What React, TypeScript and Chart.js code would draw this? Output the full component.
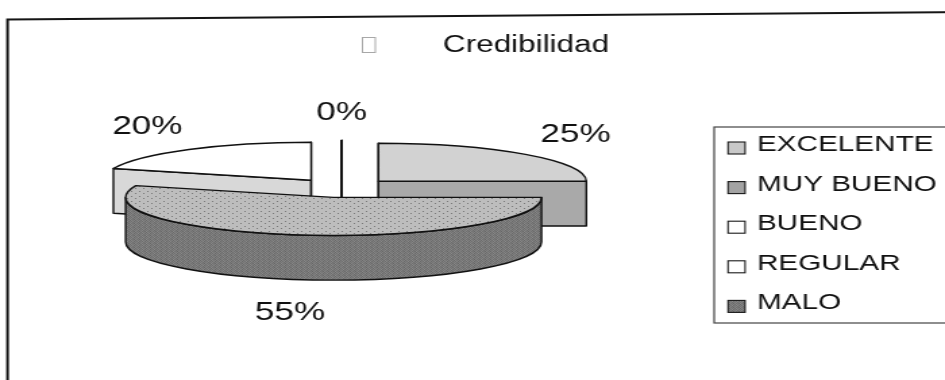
import React, { useEffect, useRef } from "react";
import { Chart, registerables } from "chart.js";

Chart.register(...registerables);

// ---------- data ----------
const TITLE = "Credibilidad";
const CATEGORIES = ["EXCELENTE", "MUY BUENO", "BUENO", "REGULAR", "MALO"];
const VALUES = [25, 55, 20, 0, 0];

// ---------- styles ----------
const LEGEND_FILL = ["#c8c8c8", "#a3a3a3", "#ffffff", "#ffffff", "#7d7d7d"];
const TOP_FILL = ["#d2d2d2", "dots", "#ffffff", "#ffffff", "#7d7d7d"];
const SIDE_FILL = ["#a9a9a9", "grain", "#d8d8d8", "#f4f4f4", "#5f5f5f"];

const FONT = 'Arial, "Liberation Sans", Helvetica, sans-serif';
const STRETCH_X = 1.35; // the scanned original is widened horizontally
const W = 720;
const H = 380;

const patternCache: any = {};
function getFill(ctx: any, key: string) {
  if (key !== "dots" && key !== "grain") return key;
  if (patternCache[key]) return patternCache[key];
  const c = document.createElement("canvas");
  const g = c.getContext("2d") as CanvasRenderingContext2D;
  if (key === "dots") {
    c.width = 6;
    c.height = 5;
    g.fillStyle = "#bdbdbd";
    g.fillRect(0, 0, 6, 5);
    g.fillStyle = "#787878";
    g.fillRect(1, 1, 1, 1);
    g.fillRect(4, 3, 1, 1);
  } else {
    const shades = [
      [0x6a, 0x86, 0x72, 0x82],
      [0x80, 0x6e, 0x8a, 0x68],
      [0x74, 0x84, 0x6c, 0x7e],
      [0x88, 0x70, 0x7c, 0x66],
    ];
    c.width = 4;
    c.height = 4;
    for (let y = 0; y < 4; y++) {
      for (let x = 0; x < 4; x++) {
        const v = shades[y][x];
        g.fillStyle = `rgb(${v},${v},${v})`;
        g.fillRect(x, y, 1, 1);
      }
    }
  }
  const p = ctx.createPattern(c, "repeat");
  patternCache[key] = p;
  return p;
}

// Draws the pie as a tilted, exploded 3D pie using the angles, centre and
// radius that Chart.js computed for each arc element.
const pie3d = {
  id: "pie3d",
  beforeDatasetsDraw(chart: any) {
    const meta = chart.getDatasetMeta(0);
    const arcs = meta.data;
    if (!arcs || !arcs.length) return false;
    const ctx = chart.ctx;
    const R = arcs[0].outerRadius;
    const cx = arcs[0].x;
    const cy = arcs[0].y;
    const rx = R;
    const ry = R * 0.247;
    const depth = R * 0.29;
    const ex = 0.25;

    const slices = arcs.map((a: any, i: number) => {
      const mid = (a.startAngle + a.endAngle) / 2;
      return {
        i,
        a0: a.startAngle,
        a1: a.endAngle,
        mid,
        ox: cx + ex * rx * Math.cos(mid),
        oy: cy + ex * ry * Math.sin(mid),
      };
    });
    const order = [...slices].sort((p: any, q: any) => p.oy - q.oy);

    ctx.save();
    ctx.lineWidth = 1.4;
    ctx.strokeStyle = "#111";
    ctx.lineJoin = "round";

    const wall = (s: any, ang: number) => {
      const px = s.ox + rx * Math.cos(ang);
      const py = s.oy + ry * Math.sin(ang);
      ctx.beginPath();
      ctx.moveTo(s.ox, s.oy);
      ctx.lineTo(px, py);
      ctx.lineTo(px, py + depth);
      ctx.lineTo(s.ox, s.oy + depth);
      ctx.closePath();
      ctx.fill();
      ctx.stroke();
    };

    for (const s of order) {
      const side = getFill(ctx, SIDE_FILL[s.i]);
      const top = getFill(ctx, TOP_FILL[s.i]);
      ctx.fillStyle = side;
      // radial walls that face the viewer (or are seen edge-on)
      if (Math.cos(s.a0) <= 1e-9) wall(s, s.a0);
      if (Math.cos(s.a1) >= -1e-9) wall(s, s.a1);
      // curved outer wall, front half only
      const st = Math.max(s.a0, 0);
      const en = Math.min(s.a1, Math.PI);
      if (en > st) {
        ctx.beginPath();
        ctx.ellipse(s.ox, s.oy, rx, ry, 0, st, en, false);
        ctx.lineTo(s.ox + rx * Math.cos(en), s.oy + ry * Math.sin(en) + depth);
        ctx.ellipse(s.ox, s.oy + depth, rx, ry, 0, en, st, true);
        ctx.closePath();
        ctx.fillStyle = side;
        ctx.fill();
        ctx.stroke();
      }
      // top face
      ctx.beginPath();
      ctx.moveTo(s.ox, s.oy);
      ctx.ellipse(s.ox, s.oy, rx, ry, 0, s.a0, s.a1, false);
      ctx.closePath();
      ctx.fillStyle = top;
      ctx.fill();
      ctx.stroke();
    }

    // percentage labels
    const total = VALUES.reduce((t, v) => t + v, 0);
    ctx.fillStyle = "#111";
    ctx.font = `26px ${FONT}`;
    ctx.textAlign = "center";
    ctx.textBaseline = "middle";
    const seen: any = {};
    for (const s of slices) {
      const txt = Math.round((VALUES[s.i] / total) * 100) + "%";
      const c = Math.cos(s.mid);
      const sn = Math.sin(s.mid);
      const lx = cx + c * (rx * (1 + ex) + R * 0.34);
      const ly = cy + sn * (ry * (1 + ex) + R * 0.18) + (sn > 0 ? depth + R * 0.04 : 0);
      const k = `${txt}@${Math.round(lx)},${Math.round(ly)}`;
      if (seen[k]) continue;
      seen[k] = true;
      ctx.fillText(txt, lx, ly);
    }
    ctx.restore();
    return false;
  },
};

// Frame, title and the bordered legend (items generated by Chart.js).
const LEG_BOX_X = 529;
const LEG_BOX_TOP = 127;
const LEG_BOX_BOTTOM = 323;
const LEG_MARK_X = 539.3;
const LEG_TEXT_X = 560.7;
const LEG_Y0 = 145;
const LEG_STEP = 39.6;

const decor = {
  id: "decor",
  afterDraw(chart: any) {
    const ctx = chart.ctx;
    ctx.save();
    // outer frame (top and left edges visible in the scan)
    ctx.strokeStyle = "#151515";
    ctx.lineWidth = 2;
    ctx.beginPath();
    ctx.moveTo(5.6, H);
    ctx.lineTo(5.6, 19.5);
    ctx.lineTo(W, 12);
    ctx.stroke();

    // title
    ctx.fillStyle = "#111";
    ctx.font = `23.3px ${FONT}`;
    ctx.textAlign = "center";
    ctx.textBaseline = "alphabetic";
    ctx.fillText(TITLE, 389.6, 51.7);
    // faint empty key box before the title
    ctx.strokeStyle = "#a8a8a8";
    ctx.lineWidth = 1;
    ctx.strokeRect(268.5, 37.5, 9.5, 15);

    // legend
    let items: any[] = (chart.legend && chart.legend.legendItems) || [];
    if (!items.length) {
      items = (Chart as any).overrides.pie.plugins.legend.labels.generateLabels(chart);
    }
    ctx.strokeStyle = "#444";
    ctx.lineWidth = 1.2;
    ctx.strokeRect(LEG_BOX_X, LEG_BOX_TOP, W + 20 - LEG_BOX_X, LEG_BOX_BOTTOM - LEG_BOX_TOP);
    ctx.font = `22px ${FONT}`;
    ctx.textAlign = "left";
    ctx.textBaseline = "middle";
    items.forEach((it: any, k: number) => {
      const yc = LEG_Y0 + k * LEG_STEP;
      const fill = getFill(ctx, k === 4 ? "grain" : it.fillStyle);
      ctx.fillStyle = fill;
      ctx.fillRect(LEG_MARK_X, yc - 3, 12.6, 12);
      ctx.strokeStyle = "#1a1a1a";
      ctx.lineWidth = 1.1;
      ctx.strokeRect(LEG_MARK_X, yc - 3, 12.6, 12);
      ctx.fillStyle = "#111";
      ctx.fillText(it.text, LEG_TEXT_X, yc);
    });
    ctx.restore();
  },
};

export default function App() {
  const ref = useRef<HTMLCanvasElement>(null);

  useEffect(() => {
    const canvas = ref.current;
    if (!canvas) return;
    Chart.defaults.font.family = FONT;
    const chart = new Chart(canvas, {
      type: "pie",
      data: {
        labels: CATEGORIES,
        datasets: [
          {
            data: VALUES,
            backgroundColor: LEGEND_FILL,
            borderColor: "#222",
            borderWidth: 1,
          },
        ],
      },
      options: {
        responsive: false,
        animation: false,
        events: [],
        layout: { padding: { left: 0, right: 213.8, top: 33.5, bottom: 37.5 } },
        plugins: {
          title: { display: false },
          tooltip: { enabled: false },
          legend: { display: false },
        },
      } as any,
      plugins: [pie3d, decor],
    });
    return () => chart.destroy();
  }, []);

  return (
    <div
      style={{
        position: "absolute",
        left: 0,
        top: 0,
        width: 945,
        height: 380,
        overflow: "hidden",
        background: "#fff",
      }}
    >
      <canvas
        ref={ref}
        width={W}
        height={H}
        style={{ width: `${W * STRETCH_X}px`, height: `${H}px`, display: "block" }}
      />
    </div>
  );
}
